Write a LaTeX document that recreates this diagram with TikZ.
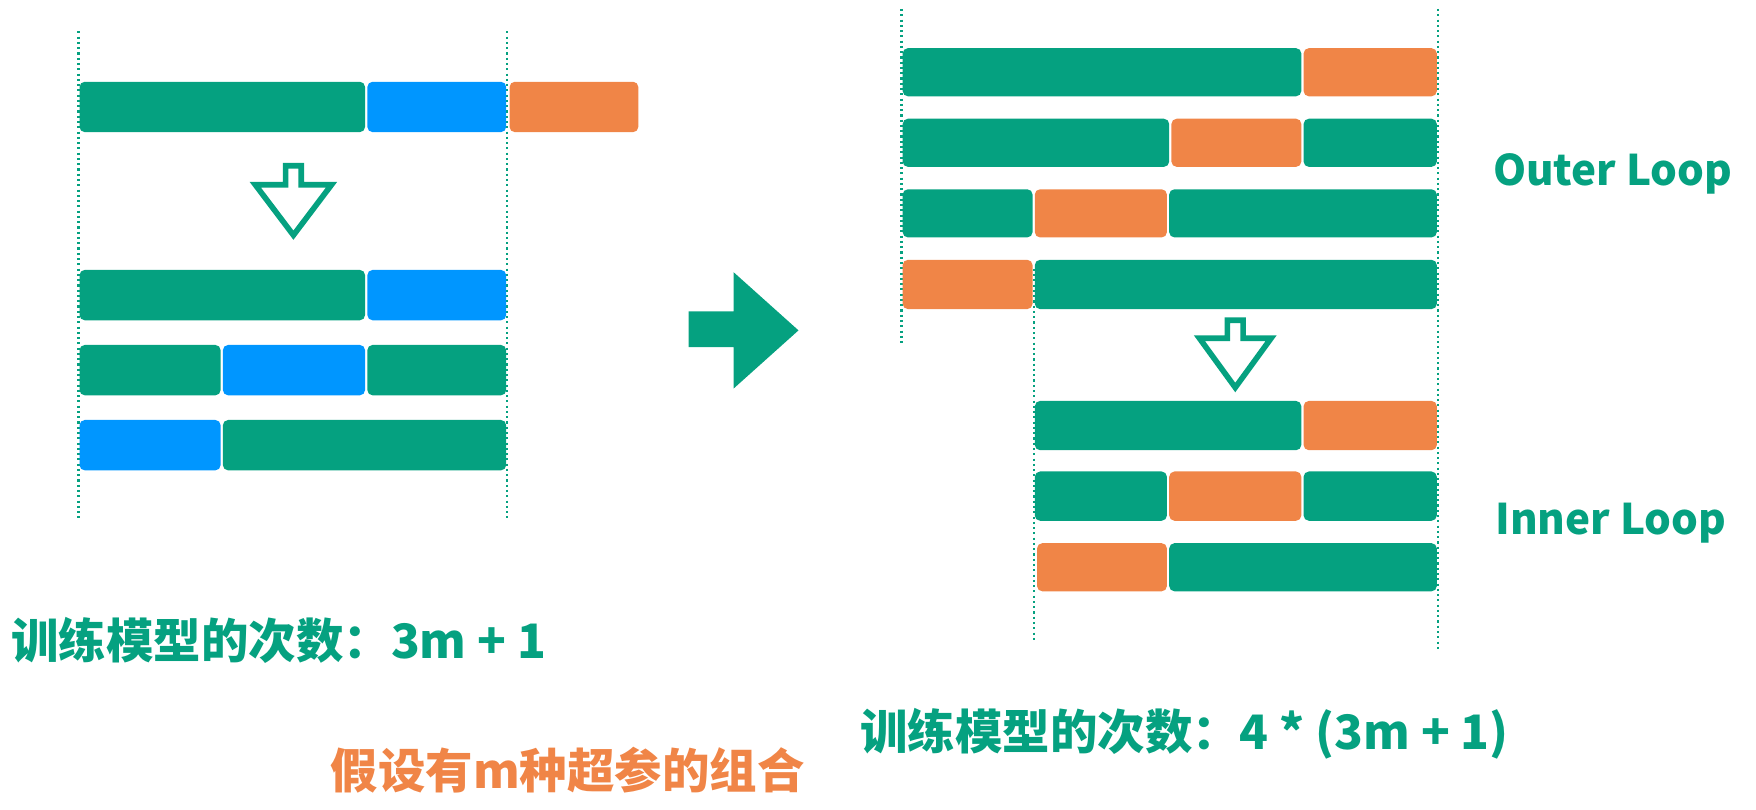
\documentclass[tikz,border=0pt]{standalone}
\usepackage{fontspec}
\newfontfamily\cjk{Noto Sans CJK SC}
\definecolor{lgreen}{HTML}{05A180}
\definecolor{lblue}{HTML}{0096FF}
\definecolor{lorange}{HTML}{F08547}
\begin{document}
\begin{tikzpicture}[x=0.0224cm,y=-0.0224cm,
    seg/.style={rounded corners=3pt},
    guide/.style={lgreen,line width=1.3pt,dash pattern=on 1.2pt off 1.8pt},
    hollow/.style={draw=lgreen,line width=3.2pt,fill=white,line join=miter},
    lbl/.style={font=\cjk\bfseries\fontsize{27}{30}\selectfont,text=lgreen,inner sep=0pt},
    looplbl/.style={lbl,font=\cjk\bfseries\fontsize{24}{28}\selectfont}]
    \useasboundingbox (0,0) rectangle (1568,723);
    % guide lines
    \draw[guide] (70,28) -- (70,463);
    \draw[guide] (453,28) -- (453,463);
    \draw[guide] (805,8) -- (805,307);
    \draw[guide] (923,240) -- (923,572);
    \draw[guide] (1284,8) -- (1284,580);
    % left: full set
    \fill[lgreen,seg] (71,73) rectangle (326,118);
    \fill[lblue,seg] (328,73) rectangle (452,118);
    \fill[lorange,seg] (455,73) rectangle (570,118);
    \draw[hollow] (255,148) -- (269,148) -- (269,165) -- (296,165) -- (262,210) -- (228,165) -- (255,165) -- cycle;
    % left: folds
    \fill[lgreen,seg] (71,241) rectangle (326,286);
    \fill[lblue,seg] (328,241) rectangle (452,286);
    \fill[lgreen,seg] (71,308) rectangle (197,353);
    \fill[lblue,seg] (199,308) rectangle (326,353);
    \fill[lgreen,seg] (328,308) rectangle (452,353);
    \fill[lblue,seg] (71,375) rectangle (197,420);
    \fill[lgreen,seg] (199,375) rectangle (452,420);
    % middle arrow
    \fill[lgreen] (615,278) -- (655,278) -- (655,243) -- (713,295) -- (655,347) -- (655,310) -- (615,310) -- cycle;
    % right: outer loop
    \fill[lgreen,seg] (806,43) rectangle (1162,86);
    \fill[lorange,seg] (1164,43) rectangle (1283,86);
    \fill[lgreen,seg] (806,106) rectangle (1044,149);
    \fill[lorange,seg] (1046,106) rectangle (1162,149);
    \fill[lgreen,seg] (1164,106) rectangle (1283,149);
    \fill[lgreen,seg] (806,169) rectangle (922,212);
    \fill[lorange,seg] (924,169) rectangle (1042,212);
    \fill[lgreen,seg] (1044,169) rectangle (1283,212);
    \fill[lorange,seg] (806,232) rectangle (922,276);
    \fill[lgreen,seg] (924,232) rectangle (1283,276);
    \draw[hollow] (1096,286) -- (1110,286) -- (1110,302) -- (1135,302) -- (1103,346) -- (1071,302) -- (1096,302) -- cycle;
    % right: inner loop
    \fill[lgreen,seg] (924,358) rectangle (1162,402);
    \fill[lorange,seg] (1164,358) rectangle (1283,402);
    \fill[lgreen,seg] (924,421) rectangle (1042,465);
    \fill[lorange,seg] (1044,421) rectangle (1162,465);
    \fill[lgreen,seg] (1164,421) rectangle (1283,465);
    \fill[lorange,seg] (926,485) rectangle (1042,528);
    \fill[lgreen,seg] (1044,485) rectangle (1283,528);
    % labels
    \node[looplbl,anchor=west] (outer) at (1333,155) {Outer Loop};
    \node[looplbl,anchor=west] (inner) at (1335,467) {Inner Loop};
    \node[lbl,anchor=west] (countL) at (10,572) {训练模型的次数：3m + 1};
    \node[lbl,anchor=west] (countR) at (768,655) {训练模型的次数：4 * (3m + 1)};
    \node[lbl,anchor=west,text=lorange] (combo) at (295,688) {假设有m种超参的组合};
\end{tikzpicture}
\end{document}
